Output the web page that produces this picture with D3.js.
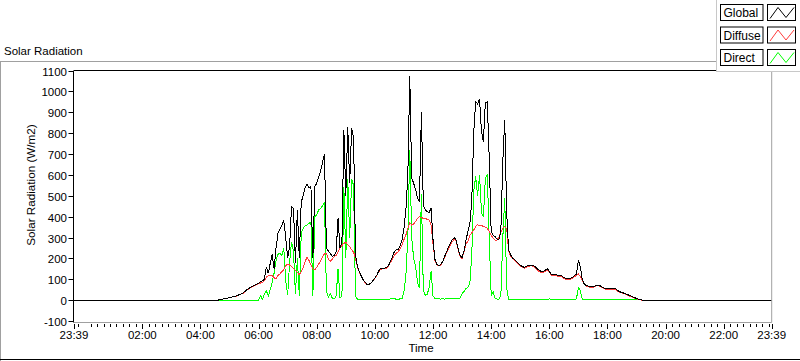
<!DOCTYPE html>
<html><head><meta charset="utf-8">
<script src="https://cdn.jsdelivr.net/npm/d3@7"></script>
<style>
html,body{margin:0;padding:0;background:#fff;}
svg{display:block;}
text{font-family:"Liberation Sans",Arial,sans-serif;fill:#000;}
</style></head><body>
<svg id="chart" width="800" height="361"></svg>
<script>
// ---------- data ----------
const chartTitle = "Solar Radiation";
const yAxisTitle = "Solar Radiation (W/m2)";
const xAxisTitle = "Time";
const seriesNames = ["Global", "Diffuse", "Direct"];
const seriesColors = ["#000000", "#ff3c3c", "#00ff00"];
const yTicks = [-100, 0, 100, 200, 300, 400, 500, 600, 700, 800, 900, 1000, 1100];
// minutes from midnight (23:39 of previous day = -21)
const xTickMinutes = [-21, 120, 240, 360, 480, 600, 720, 840, 960, 1080, 1200, 1320, 1419];
const xTickLabels = ["23:39", "02:00", "04:00", "06:00", "08:00", "10:00", "12:00", "14:00", "16:00", "18:00", "20:00", "22:00", "23:39"];
const domainMinutes = [-21, 1419];
const sampleStartMinute = 276;   // 04:36
const sampleStepMinutes = 4;

const globalValues = [
0,2,4,6,8,10,12,14,16,19,
22,26,30,34,42,50,56,62,66,72,
76,80,88,92,100,160,128,176,220,150,
250,320,340,360,380,300,200,260,448,440,
180,430,200,470,500,540,556,540,545,200,
545,560,590,620,660,700,250,235,224,210,
215,230,392,250,280,815,500,831,560,823,
780,220,160,135,115,96,85,75,76,82,
94,106,120,140,152,152,152,158,165,185,
205,232,242,240,258,290,345,430,600,1074,
584,560,530,490,470,900,456,432,425,420,
440,290,195,170,166,170,185,210,232,255,
275,290,300,285,245,212,205,235,285,330,
362,480,800,950,940,965,807,760,945,951,
680,330,312,304,292,292,330,660,865,420,
240,218,202,195,185,176,168,160,158,160,
166,168,168,164,158,148,142,136,138,144,
150,138,122,122,124,120,118,118,112,106,
101,102,104,110,118,125,192,160,100,78,
70,68,65,64,66,70,72,70,64,59,
56,54,54,56,56,55,48,42,38,35,
32,28,24,20,16,12,8,5,2,0,0];

const diffuseValues = [
0,2,4,6,8,10,12,14,16,18,
21,25,29,33,40,48,54,60,64,70,
74,78,82,86,92,110,117,120,118,108,
100,118,126,136,146,165,172,168,160,152,
142,132,122,135,155,185,206,190,168,150,
145,158,172,190,208,222,225,195,185,196,
208,215,230,248,262,272,278,265,256,242,
230,200,158,134,114,95,84,74,75,81,
93,105,118,136,148,150,150,154,162,180,
195,215,225,232,245,262,290,312,344,370,
360,365,376,392,400,395,392,392,386,384,
360,270,190,168,164,168,183,203,226,248,
266,280,294,282,240,208,200,232,270,280,
310,322,336,352,362,356,358,352,350,345,
328,312,296,288,288,300,325,345,352,344,
236,212,200,192,182,173,165,157,153,156,
160,164,164,160,152,142,136,132,134,138,
146,136,118,118,120,116,114,114,108,102,
97,98,100,106,113,118,125,115,96,75,
67,65,62,61,63,67,69,67,61,56,
53,51,51,53,53,52,45,39,35,32,
29,25,21,17,13,9,6,3,1,0,0];

const directValues = [
0,0,0,0,0,0,0,0,0,0,
0,0,0,0,0,0,0,0,0,0,
0,0,21,4,30,45,20,50,85,130,
190,220,224,215,250,90,24,180,280,232,
30,200,20,320,344,355,360,368,375,20,
400,410,432,440,452,466,40,15,30,10,
5,20,150,10,20,540,200,580,300,580,
550,20,5,4,3,3,3,4,4,3,
3,3,2,2,3,3,4,3,4,6,
8,6,5,4,6,8,40,120,300,720,
300,200,160,85,60,510,48,24,28,60,
140,20,8,6,6,5,6,5,6,7,
6,6,8,8,10,10,32,42,55,60,
80,220,520,592,500,600,420,400,584,600,
300,24,40,10,5,5,20,296,490,60,
3,2,3,4,3,2,3,3,4,3,
3,2,3,3,2,5,3,3,4,3,
3,6,4,3,3,2,3,3,4,3,
2,3,3,3,4,6,60,45,5,3,
3,2,3,3,3,2,3,3,2,2,
2,3,2,2,3,2,2,2,2,2,
2,2,2,2,1,1,1,1,1,0,0];

// ---------- drawing ----------
const svg = d3.select("#chart");
const W = 800, H = 361;
const plotLeft = 74, plotRight = 771.7, plotTop = 70.5, plotBottom = 322.5;

const x = d3.scaleLinear().domain(domainMinutes).range([plotLeft, plotRight]);
const y = d3.scaleLinear().domain([-100, 1100]).range([321, 70.5]);

svg.append("rect").attr("width", W).attr("height", H).attr("fill", "#fff");

// outer frame
svg.append("line").attr("x1", 0).attr("x2", 717).attr("y1", 61.5).attr("y2", 61.5).attr("stroke", "#a0a0a0");
svg.append("line").attr("x1", 0.5).attr("x2", 0.5).attr("y1", 61.5).attr("y2", 361).attr("stroke", "#a0a0a0");
svg.append("line").attr("x1", 0).attr("x2", 800).attr("y1", 359.5).attr("y2", 359.5).attr("stroke", "#000");

// title
svg.append("text").attr("x", 4).attr("y", 55).attr("font-size", "11.5px").text(chartTitle);

// plot area
svg.append("rect").attr("x", plotLeft).attr("y", plotTop).attr("width", plotRight - plotLeft).attr("height", plotBottom - plotTop).attr("fill", "#fff");

// series
const sampleMinutes = globalValues.map((_, i) => sampleStartMinute + i * sampleStepMinutes);
function toPoints(vals) {
  const pts = [[domainMinutes[0], 0]];
  vals.forEach((v, i) => pts.push([sampleMinutes[i], v]));
  pts.push([domainMinutes[1], 0]);
  return pts;
}
const line = d3.line().x(d => x(d[0])).y(d => y(d[1]));
const seriesData = [globalValues, diffuseValues, directValues];
const plotG = svg.append("g");
[2, 1, 0].forEach(i => {
  plotG.append("path")
    .attr("d", line(toPoints(seriesData[i])))
    .attr("fill", "none")
    .attr("stroke", seriesColors[i])
    .attr("stroke-width", 1)
    .attr("shape-rendering", "crispEdges");
});

// plot borders
svg.append("line").attr("x1", plotLeft).attr("x2", plotRight).attr("y1", plotTop).attr("y2", plotTop).attr("stroke", "#000");
svg.append("line").attr("x1", plotRight).attr("x2", plotRight).attr("y1", plotTop).attr("y2", plotBottom).attr("stroke", "#a0a0a0");
svg.append("line").attr("x1", plotLeft).attr("x2", plotRight).attr("y1", plotBottom).attr("y2", plotBottom).attr("stroke", "#a0a0a0");
svg.append("line").attr("x1", plotLeft - 0.5).attr("x2", plotLeft - 0.5).attr("y1", plotTop).attr("y2", plotBottom).attr("stroke", "#000");

// y axis ticks and labels
const yG = svg.append("g");
yTicks.forEach(v => {
  const yy = Math.round(y(v)) + 0.5;
  yG.append("line").attr("x1", 68.5).attr("x2", 73.5).attr("y1", yy).attr("y2", yy).attr("stroke", "#000");
  yG.append("text").attr("x", 67).attr("y", yy).attr("dy", "0.36em").attr("text-anchor", "end").attr("font-size", "11.5px").text(v);
});
svg.append("text").attr("transform", "translate(34.5,185) rotate(-90)").attr("text-anchor", "middle").attr("font-size", "11.7px").text(yAxisTitle);

// x axis ticks
const xG = svg.append("g");
const minorStep = 120 / 9;
const minorTicks = d3.range(-20, 110).map(k => 120 + k * minorStep)
  .filter(m => m > domainMinutes[0] + 1 && m < domainMinutes[1] - 1 && Math.abs(m / 120 - Math.round(m / 120)) > 1e-6);
minorTicks.forEach(m => {
  const xx = Math.round(x(m)) + 0.5;
  xG.append("line").attr("x1", xx).attr("x2", xx).attr("y1", 324).attr("y2", 327).attr("stroke", "#000");
});
xTickMinutes.forEach((m, i) => {
  const xx = Math.round(x(m)) + 0.5;
  xG.append("line").attr("x1", xx).attr("x2", xx).attr("y1", 324).attr("y2", 329).attr("stroke", "#000");
  xG.append("text").attr("x", x(m)).attr("y", 339).attr("text-anchor", "middle").attr("font-size", "11.5px").text(xTickLabels[i]);
});
svg.append("text").attr("x", 421).attr("y", 351.5).attr("text-anchor", "middle").attr("font-size", "11.5px").text(xAxisTitle);

// legend
const lg = svg.append("g");
lg.append("rect").attr("x", 717).attr("y", 0).attr("width", 83).attr("height", 71.5).attr("fill", "#fff");
lg.append("line").attr("x1", 716.5).attr("x2", 716.5).attr("y1", 0).attr("y2", 72).attr("stroke", "#c8c8c8");
lg.append("line").attr("x1", 716.5).attr("x2", 800).attr("y1", 71.5).attr("y2", 71.5).attr("stroke", "#c8c8c8");
seriesNames.forEach((name, i) => {
  const y0 = 4.5 + i * 22.5;
  lg.append("rect").attr("x", 720.5).attr("y", y0).attr("width", 42.5).attr("height", 16).attr("fill", "#fff").attr("stroke", "#000");
  lg.append("text").attr("x", 723.5).attr("y", y0 + 12.5).attr("font-size", "12px").text(name);
  lg.append("rect").attr("x", 767.5).attr("y", y0).attr("width", 28).attr("height", 16).attr("fill", "#fff").attr("stroke", "#000");
  lg.append("polyline")
    .attr("points", [[770, y0 + 14], [778, y0 + 3], [786, y0 + 13], [794, y0 + 3]].map(p => p.join(",")).join(" "))
    .attr("fill", "none").attr("stroke", seriesColors[i]).attr("stroke-width", 1);
});
</script>
</body></html>
